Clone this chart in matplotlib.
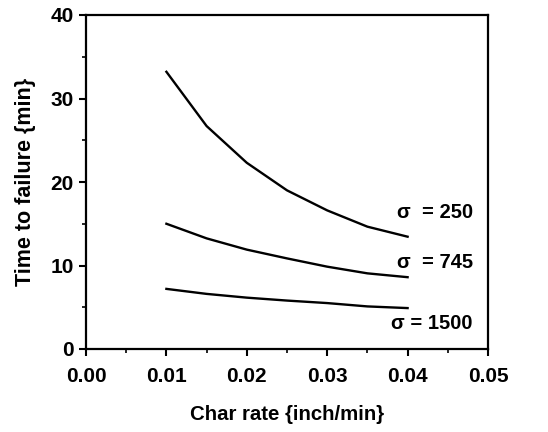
import matplotlib
matplotlib.use('Agg')
import matplotlib.pyplot as plt
from matplotlib.ticker import MultipleLocator

# ====================================
# DATA
# ====================================

char_rate = [0.010, 0.015, 0.020, 0.025, 0.030, 0.035, 0.040]

t_250 = [33.2, 26.7, 22.3, 19.0, 16.6, 14.65, 13.45]
t_745 = [15.0, 13.25, 11.9, 10.85, 9.86, 9.06, 8.6]
t_1500 = [7.2, 6.6, 6.15, 5.8, 5.5, 5.1, 4.9]

labels = ['\u03c3  = 250', '\u03c3  = 745', '\u03c3 = 1500']
label_y = [16.3, 10.4, 3.1]

plt.rcParams['font.family'] = ['Liberation Sans', 'DejaVu Sans']
plt.rcParams['font.weight'] = 'bold'

fig = plt.figure(figsize=(5.48, 4.32), dpi=100)
ax = fig.add_axes([86/548, 1 - 349/432, 402/548, 334/432])

for y in (t_250, t_745, t_1500):
    ax.plot(char_rate, y, color='black', lw=1.7)

for txt, yy in zip(labels, label_y):
    ax.text(0.0481, yy, txt, ha='right', va='center', fontsize=14.5,
            fontweight='bold')

ax.set_xlim(0, 0.05)
ax.set_ylim(0, 40)
ax.xaxis.set_major_locator(MultipleLocator(0.01))
ax.xaxis.set_minor_locator(MultipleLocator(0.005))
ax.yaxis.set_major_locator(MultipleLocator(10))
ax.yaxis.set_minor_locator(MultipleLocator(5))
ax.xaxis.set_major_formatter(matplotlib.ticker.FormatStrFormatter('%.2f'))

ax.tick_params(which='major', direction='out', length=5, width=1.5,
               labelsize=15, pad=4)
ax.tick_params(axis='x', which='major', pad=8)
ax.tick_params(which='minor', direction='out', length=3, width=1.2)
for lab in ax.get_xticklabels() + ax.get_yticklabels():
    lab.set_fontweight('bold')

for s in ax.spines.values():
    s.set_linewidth(1.6)

ax.set_xlabel('Char rate {inch/min}', fontsize=14.7, fontweight='bold', labelpad=14)
ax.set_ylabel('Time to failure {min}', fontsize=15.5, fontweight='bold', labelpad=10)

fig.savefig('out.png', dpi=100)
